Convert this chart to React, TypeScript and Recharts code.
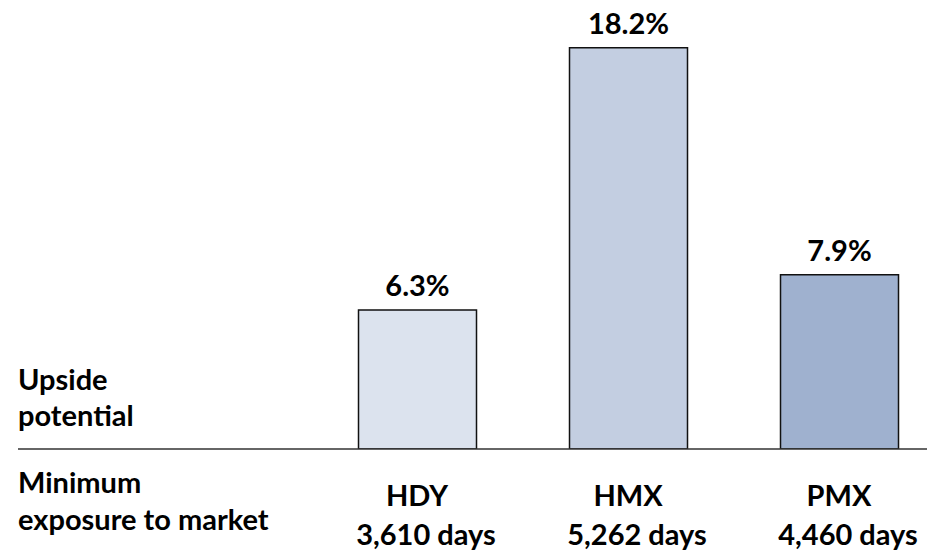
import React from 'react';
import { BarChart, Bar, XAxis, YAxis, Cell, LabelList, Customized } from 'recharts';

const categories = ['HDY', 'HMX', 'PMX'];
const upsidePotential = [6.3, 18.2, 7.9];
const exposureDays = ['3,610 days', '5,262 days', '4,460 days'];
const barColors = ['#dce3ee', '#c3cee1', '#9fb1cf'];
const leftLabelsTop = ['Upside', 'potential'];
const leftLabelsBottom = ['Minimum', 'exposure to market'];

const data = categories.map((c, i) => ({
  name: c,
  pos: i + 1,
  value: upsidePotential[i],
  days: exposureDays[i],
}));

const FONT = 'Lato, "Open Sans", sans-serif';
const FS = 29;

const Tick = (props: any) => {
  const { x, y, payload } = props;
  const idx = Math.round(payload.value) - 1;
  const d = data[idx];
  if (!d) return null;
  return (
    <g>
      <text x={x} y={y + 57} textAnchor="middle" fontFamily={FONT} fontWeight={700} fontSize={FS} fill="#000">
        {d.name}
      </text>
      <text x={x + 9} y={y + 96} textAnchor="middle" fontFamily={FONT} fontWeight={700} fontSize={FS} fill="#000">
        {d.days}
      </text>
    </g>
  );
};

const LeftLabels = () => (
  <g>
    <text x={18} y={390} fontFamily={FONT} fontWeight={700} fontSize={FS} fill="#000">{leftLabelsTop[0]}</text>
    <text x={18} y={426} fontFamily={FONT} fontWeight={700} fontSize={FS} fill="#000">{leftLabelsTop[1]}</text>
    <text x={18} y={493} fontFamily={FONT} fontWeight={700} fontSize={FS} fill="#000">{leftLabelsBottom[0]}</text>
    <text x={18} y={530} fontFamily={FONT} fontWeight={700} fontSize={FS} fill="#000">{leftLabelsBottom[1]}</text>
  </g>
);

export default function App() {
  return (
    <div style={{ position: 'absolute', left: 0, top: 0, width: 927, height: 553 }}>
      <BarChart
        width={927}
        height={553}
        data={data}
        margin={{ top: 8, right: 0, left: 18, bottom: 0 }}
      >
        <XAxis
          type="number"
          dataKey="pos"
          domain={[-0.891, 3.417]}
          ticks={[1, 2, 3]}
          allowDataOverflow
          height={104}
          tickSize={0}
          tickMargin={0}
          tickLine={false}
          axisLine={{ stroke: '#333', strokeWidth: 1.5 }}
          tick={<Tick />}
          interval={0}
        />
        <YAxis hide domain={[0, 20]} allowDataOverflow />
        <Bar dataKey="value" barSize={118} stroke="#111" strokeWidth={1.5} isAnimationActive={false}>
          {data.map((d, i) => (
            <Cell key={d.name} fill={barColors[i]} />
          ))}
          <LabelList
            dataKey="value"
            position="top"
            offset={14}
            formatter={(v: any) => `${Number(v).toFixed(1)}%`}
            style={{ fontFamily: FONT, fontWeight: 700, fontSize: FS, fill: '#000' }}
          />
        </Bar>
        <Customized component={LeftLabels} />
      </BarChart>
    </div>
  );
}
